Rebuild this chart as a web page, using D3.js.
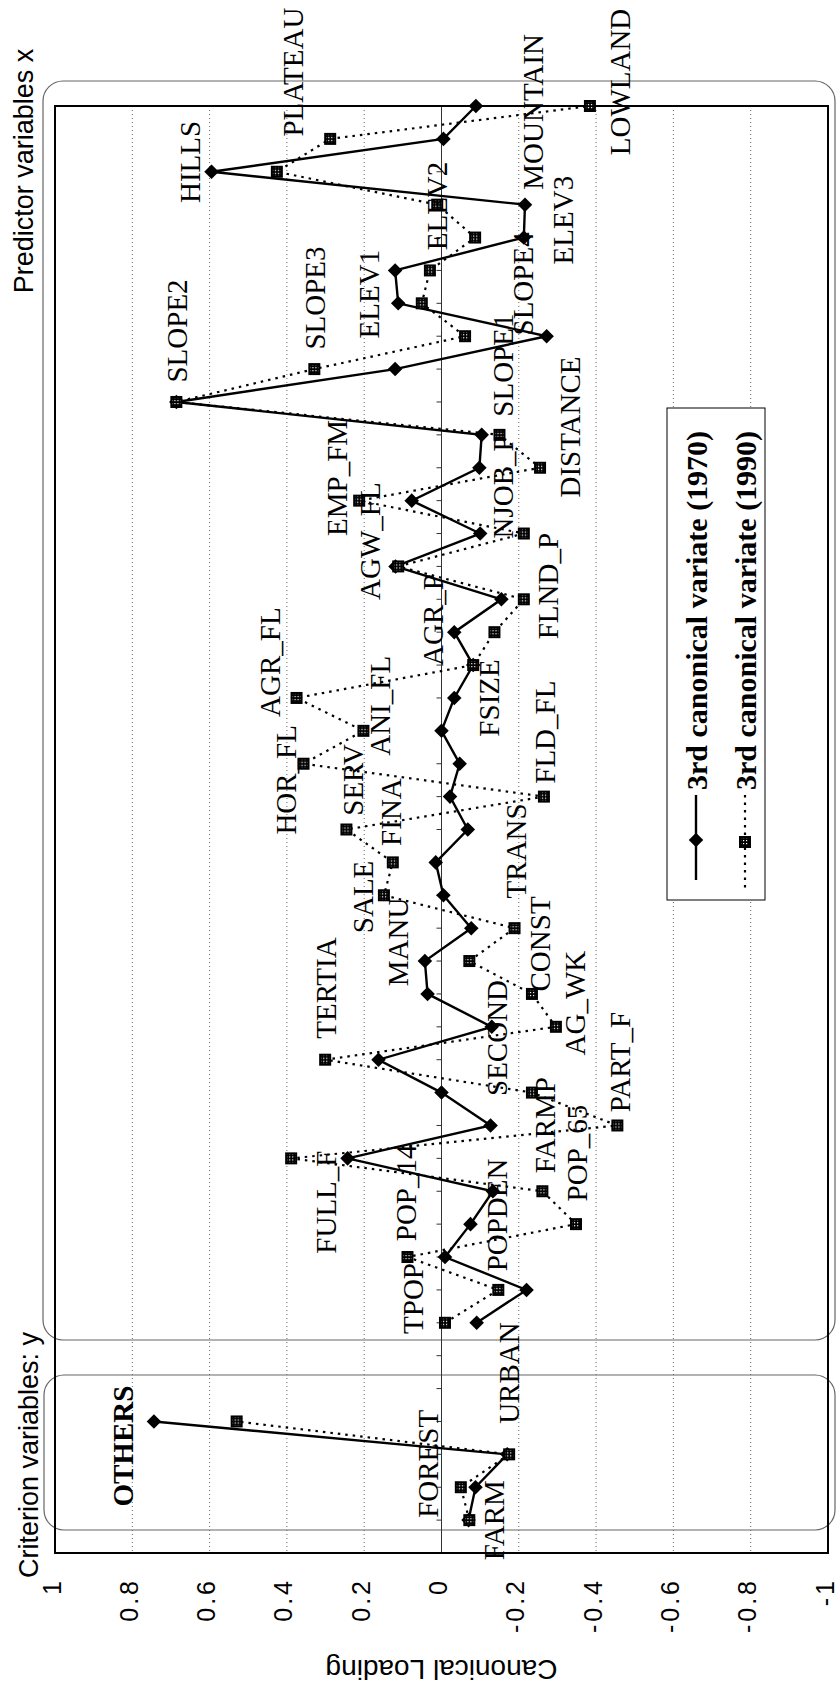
<!DOCTYPE html>
<html><head><meta charset="utf-8">
<script src="https://cdn.jsdelivr.net/npm/d3@7"></script>
<style>body{margin:0;background:#fff}svg{display:block}</style>
</head><body>
<svg id="c" width="838" height="1693"></svg>
<script>
// ---------- data ----------
const categories = ["", "FARM","FOREST","URBAN","OTHERS","","",
 "TPOP","POPDEN","POP_14","POP_65","FARMP","FULL_F","PART_F","SECOND","TERTIA","AG_WK",
 "CONST","MANU","TRANS","SALE","FINA","SERV","FLD_FL","HOR_FL","ANI_FL","AGR_FL","FSIZE",
 "AGR_P","FLND_P","AGW_FL","NJOB_P","EMP_FM","DISTANCE","SLOPE1","SLOPE2","SLOPE3","SLOPE4",
 "ELEV1","ELEV2","ELEV3","MOUNTAIN","HILLS","PLATEAU","LOWLAND"];
const values1970 = [null,-0.07,-0.088,-0.17,0.744,null,null,
 -0.091,-0.22,-0.009,-0.075,-0.133,0.243,-0.127,0.0,0.163,-0.13,
 0.036,0.043,-0.077,-0.005,0.015,-0.068,-0.022,-0.047,0.0,-0.033,-0.082,
 -0.033,-0.155,0.119,-0.1,0.077,-0.098,-0.104,0.686,0.12,-0.272,
 0.112,0.12,-0.213,-0.216,0.595,-0.005,-0.089];
const values1990 = [null,-0.072,-0.05,-0.175,0.53,null,null,
 -0.009,-0.147,0.088,-0.348,-0.261,0.389,-0.455,-0.234,0.301,-0.296,
 -0.234,-0.072,-0.189,0.149,0.126,0.246,-0.265,0.357,0.202,0.375,-0.082,
 -0.137,-0.213,0.112,-0.213,0.213,-0.255,-0.15,0.686,0.329,-0.061,
 0.051,0.03,-0.087,0.011,0.426,0.288,-0.384];
// label anchors (category position, loading) for each category's text
const labelAt = [null,1.0,2.71,5.47,3.25,null,null,
 7.74,10.28,10.95,12.16,13.01,10.67,14.93,15.66,17.18,16.72,
 18.52,18.58,21.35,19.95,22.53,23.51,24.96,23.51,25.76,27.09,26.0,
 28.37,29.4,30.77,32.42,32.69,34.24,36.12,37.16,38.16,38.59,
 38.28,40.96,40.53,43.82,42.3,45.03,44.73];
const labelValue = [null,-0.136,0.036,-0.175,0.824,null,null,
 0.073,-0.144,0.092,-0.35,-0.268,0.299,-0.462,-0.144,0.299,-0.345,
 -0.255,0.113,-0.193,0.203,0.131,0.229,-0.268,0.402,0.159,0.444,-0.123,
 0.022,-0.276,0.185,-0.159,0.27,-0.332,-0.159,0.686,0.327,-0.211,
 0.188,0.012,-0.314,-0.237,0.651,0.384,-0.462];
const tickValues = [1,0.8,0.6,0.4,0.2,0,-0.2,-0.4,-0.6,-0.8,-1];
const tickLabels = ["1","0.8","0.6","0.4","0.2","0","-0.2","-0.4","-0.6","-0.8","-1"];
const seriesNames = ["3rd canonical variate (1970)","3rd canonical variate (1990)"];
const panelTitles = ["Predictor variables x","Criterion variables: y"];
const axisTitle = "Canonical Loading";

// ---------- layout ----------
const svg = d3.select("#c");
const X0 = 55, X1 = 828, YB = 1553, YT = 106;
const x = d3.scaleLinear().domain([1,-1]).range([X0,X1]);
const y = d3.scaleLinear().domain([0,categories.length-1]).range([YB,YT]);
const serif = "'Liberation Serif','Times New Roman',serif";
const sans = "'Liberation Sans',Arial,Helvetica,sans-serif";

const defs = svg.append("defs");
const pat = defs.append("pattern").attr("id","chk").attr("width",3).attr("height",3)
  .attr("patternUnits","userSpaceOnUse");
pat.append("rect").attr("width",3).attr("height",3).attr("fill","#000");
pat.append("rect").attr("x",1).attr("y",1).attr("width",1.2).attr("height",1.2).attr("fill","#fff");

svg.append("rect").attr("width",838).attr("height",1693).attr("fill","#fff");

// panel boxes (rounded)
svg.append("rect").attr("x",43).attr("y",81).attr("width",792).attr("height",1259)
  .attr("rx",20).attr("fill","none").attr("stroke","#666").attr("stroke-width",1.2);
svg.append("rect").attr("x",44).attr("y",1375).attr("width",791).attr("height",155)
  .attr("rx",20).attr("fill","none").attr("stroke","#666").attr("stroke-width",1.2);

// gridlines
svg.append("g").selectAll("line").data(tickValues.filter(v=>v!==0 && Math.abs(v)!==1)).join("line")
  .attr("x1",d=>x(d)).attr("x2",d=>x(d)).attr("y1",YT).attr("y2",YB)
  .attr("stroke","#666").attr("stroke-width",1).attr("stroke-dasharray","1,3");
// zero line + category ticks
svg.append("line").attr("x1",x(0)).attr("x2",x(0)).attr("y1",YT).attr("y2",YB)
  .attr("stroke","#333").attr("stroke-width",1);
svg.append("g").selectAll("line").data(d3.range(categories.length)).join("line")
  .attr("x1",x(0)-5).attr("x2",x(0)).attr("y1",d=>y(d)).attr("y2",d=>y(d))
  .attr("stroke","#333").attr("stroke-width",1);

// frame
svg.append("rect").attr("x",X0).attr("y",YT).attr("width",X1-X0).attr("height",YB-YT)
  .attr("fill","none").attr("stroke","#000").attr("stroke-width",2);

// tick labels
svg.append("g").selectAll("text").data(tickValues).join("text")
  .attr("transform",d=>`translate(${x(d)},1578) rotate(-90)`)
  .attr("text-anchor","end").attr("dy","0.22em")
  .attr("font-family",sans).attr("font-size",25).attr("letter-spacing",3)
  .text((d,i)=>tickLabels[i]);
// axis title (upside down)
svg.append("text").attr("transform",`translate(${x(0)},1670) rotate(180)`)
  .attr("text-anchor","middle").attr("dy","0.35em")
  .attr("font-family",sans).attr("font-size",28).text(axisTitle);
// panel titles
svg.append("text").attr("transform","translate(33,171) rotate(-90)").attr("text-anchor","middle")
  .attr("font-family",sans).attr("font-size",27).text(panelTitles[0]);
svg.append("text").attr("transform","translate(38,1455) rotate(-90)").attr("text-anchor","middle")
  .attr("font-family",sans).attr("font-size",27).text(panelTitles[1]);

// lines
const idx = d3.range(categories.length);
const line = (vals)=>d3.line().defined(i=>vals[i]!==null).x(i=>x(vals[i])).y(i=>y(i))(idx);
svg.append("path").attr("d",line(values1990)).attr("fill","none").attr("stroke","#000")
  .attr("stroke-width",2.2).attr("stroke-dasharray","2.5,5");
svg.append("path").attr("d",line(values1970)).attr("fill","none").attr("stroke","#000")
  .attr("stroke-width",2.4);

// markers
const diamondPath = d3.symbol().type(d3.symbolSquare).size(106)();
function square(g){
  g.append("rect").attr("x",-6).attr("y",-6).attr("width",12).attr("height",12).attr("fill","#000");
  g.append("rect").attr("x",-4).attr("y",-4).attr("width",8).attr("height",8).attr("fill","url(#chk)");
}
svg.append("g").selectAll("path").data(idx.filter(i=>values1970[i]!==null)).join("path")
  .attr("d",diamondPath).attr("fill","#000")
  .attr("transform",i=>`translate(${x(values1970[i])},${y(i)}) rotate(45)`);
svg.append("g").selectAll("g").data(idx.filter(i=>values1990[i]!==null)).join("g")
  .attr("transform",i=>`translate(${x(values1990[i])},${y(i)})`).each(function(){square(d3.select(this));});

// category labels
svg.append("g").selectAll("text").data(idx.filter(i=>labelAt[i]!==null)).join("text")
  .attr("transform",i=>`translate(${x(labelValue[i])},${y(labelAt[i])}) rotate(-90)`)
  .attr("text-anchor","middle").attr("dy","0.35em")
  .attr("font-family",serif).attr("font-size",29)
  .attr("font-weight",i=>categories[i]==="OTHERS"?"bold":"normal")
  .text(i=>categories[i]);

// legend
const lg = svg.append("g");
lg.append("rect").attr("x",667).attr("y",408).attr("width",98).attr("height",492)
  .attr("fill","#fff").attr("stroke","#000").attr("stroke-width",1);
const lx = [696,745];
lg.append("line").attr("x1",lx[0]).attr("x2",lx[0]).attr("y1",795).attr("y2",880)
  .attr("stroke","#000").attr("stroke-width",2.4);
lg.append("path").attr("d",diamondPath).attr("fill","#000").attr("transform",`translate(${lx[0]},840) rotate(45)`);
lg.append("line").attr("x1",lx[1]).attr("x2",lx[1]).attr("y1",795).attr("y2",888)
  .attr("stroke","#000").attr("stroke-width",2.2).attr("stroke-dasharray","2.5,5");
square(lg.append("g").attr("transform",`translate(${lx[1]},842)`));
lg.selectAll("text.lt").data(seriesNames).join("text").attr("class","lt")
  .attr("transform",(d,i)=>`translate(${lx[i]},790) rotate(-90)`)
  .attr("text-anchor","start").attr("dy","0.35em")
  .attr("font-family",serif).attr("font-size",30).attr("font-weight","bold").text(d=>d);
</script>
</body></html>
